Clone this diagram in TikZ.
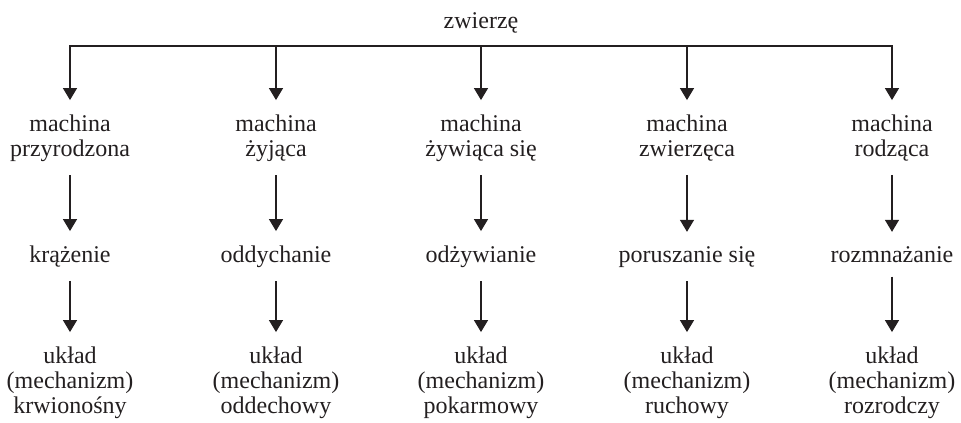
\documentclass[tikz,border=0pt]{standalone}
\usepackage{fontspec}
\setmainfont{Liberation Serif}
\usetikzlibrary{arrows.meta}
\definecolor{ink}{RGB}{35,31,32}
\begin{document}
\begin{tikzpicture}[x=0.75pt,y=-0.75pt,
  lbl/.style={align=center, anchor=base, inner xsep=2pt, inner ysep=10.5pt, text=ink,
    font=\fontsize{18}{18.75}\selectfont},
  tip/.tip={Triangle[length=9pt,width=10.5pt]},
  arr/.style={draw=ink, line width=1pt, -tip},
  both/.style={draw=ink, line width=1pt, tip-tip, line join=miter}]
\useasboundingbox (0,0) rectangle (961,422);
\node[lbl] (z) at (481,28) {zwierzę};
\coordinate (bar) at (481,46);
% level 1 (anchor = baseline of the last line)
\node[lbl] (m1) at (70,156)  {machina\\przyrodzona};
\node[lbl] (m2) at (276,156) {machina\\żyjąca};
\node[lbl] (m3) at (481,156) {machina\\żywiąca się};
\node[lbl] (m4) at (687,156) {machina\\zwierzęca};
\node[lbl] (m5) at (892,156) {machina\\rodząca};
% level 2
\node[lbl] (f1) at (70,262)  {krążenie};
\node[lbl] (f2) at (276,262) {oddychanie};
\node[lbl] (f3) at (481,262) {odżywianie};
\node[lbl] (f4) at (687,262) {poruszanie się};
\node[lbl] (f5) at (892,262) {rozmnażanie};
% level 3
\node[lbl] (u1) at (70,413)  {układ\\(mechanizm)\\krwionośny};
\node[lbl] (u2) at (276,413) {układ\\(mechanizm)\\oddechowy};
\node[lbl] (u3) at (481,413) {układ\\(mechanizm)\\pokarmowy};
\node[lbl] (u4) at (687,413) {układ\\(mechanizm)\\ruchowy};
\node[lbl] (u5) at (892,413) {układ\\(mechanizm)\\rozrodczy};
% tree bar
\draw[both] (m1.north) |- (bar) -| (m5.north);
\foreach \i in {2,3,4} \draw[arr] (m\i.north |- bar) -- (m\i.north);
\foreach \i in {1,...,5} {
  \draw[arr] (m\i.south) -- (f\i.north);
  \draw[arr] (f\i.south) -- (u\i.north);
}
\end{tikzpicture}
\end{document}
